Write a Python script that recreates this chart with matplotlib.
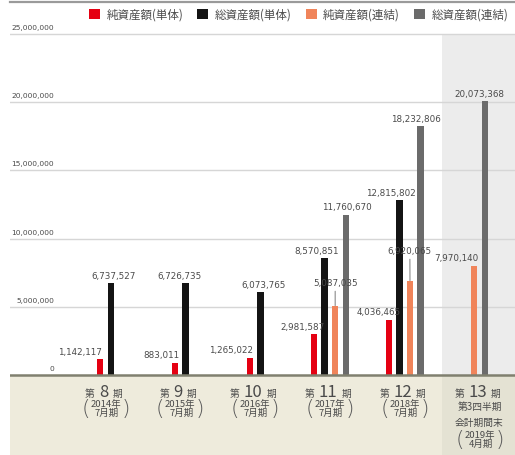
import matplotlib
matplotlib.use("Agg")
import matplotlib.pyplot as plt
from matplotlib.patches import Patch, Rectangle

plt.rcParams['font.family'] = ['Noto Sans CJK JP', 'DejaVu Sans']

# data
periods = ['8', '9', '10', '11', '12', '13']
years = ['2014年', '2015年', '2016年', '2017年', '2018年', '2019年']
months = ['7月期', '7月期', '7月期', '7月期', '7月期', '4月期']
series_names = ['純資産額(単体)', '総資産額(単体)', '純資産額(連結)', '総資産額(連結)']
net_single = [1142117, 883011, 1265022, 2981587, 4036465, None]
total_single = [6737527, 6726735, 6073765, 8570851, 12815802, None]
net_consol = [None, None, None, 5087035, 6920065, 7970140]
total_consol = [None, None, None, 11760670, 18232806, 20073368]
yticks = [0, 5000000, 10000000, 15000000, 20000000, 25000000]

# styles
colors = ['#e50012', '#141414', '#f0845a', '#6b6b6b']
txt = '#4a4a4a'
# label shifts in pixels (dx from bar centre, dy above bar top)
lab_dx = [[-20, -14, -19, -11, -10, 0],
          [3, -6, 3, -8, -8, 0],
          [0, 0, 0, 0, -1, -18],
          [0, 0, 0, 1, -5, -5]]
lab_dy = [[8, 8, 8, 8, 8, 8],
          [8, 8, 8, 8, 8, 8],
          [8, 8, 8, 23, 30, 9],
          [8, 8, 8, 8, 8, 8]]

PX = 0.72  # points per pixel at dpi 100
slot = 0.1417
width = 0.087

fig = plt.figure(figsize=(5.15, 4.56), dpi=100)
ax = fig.add_axes([10/515, 0, 505/515, 453/456])
ymin, ymax = -5.865e6, 27.346e6
xmin, xmax = -1.277, 5.475
ax.set_xlim(xmin, xmax)
ax.set_ylim(ymin, ymax)
ax.set_xticks([])
ax.set_yticks([])
for s in ['left', 'right', 'bottom']:
    ax.spines[s].set_visible(False)
ax.spines['top'].set_color('#9a9a9a')
ax.spines['top'].set_linewidth(1.6)

# backgrounds
ax.axhspan(ymin, 0, color='#eeebdc', zorder=0, lw=0)
ax.add_patch(Rectangle((4.5, 0), xmax - 4.5, 25e6, color='#ececec', zorder=0, lw=0))
ax.add_patch(Rectangle((4.5, ymin), xmax - 4.5, -ymin, color='#e4e2d3', zorder=0, lw=0))

# grid + y labels
for v in yticks:
    if v > 0:
        ax.axhline(v, color='#d6d6d6', lw=1.0, zorder=1)
    ax.annotate(f'{v:,}', xy=(44/505, v), xycoords=('axes fraction', 'data'),
                xytext=(0, 7*PX), textcoords='offset points', ha='right', va='center',
                fontsize=5.4, color=txt, family='DejaVu Sans')

# bars
series = [net_single, total_single, net_consol, total_consol]
for i in range(len(periods)):
    present = [k for k in range(4) if series[k][i] is not None]
    n = len(present)
    for p, k in enumerate(present):
        val = series[k][i]
        x = i + (p - (n - 1) / 2) * slot
        ax.bar(x, val, width=width, color=colors[k], zorder=3, lw=0)
        dy = lab_dy[k][i]
        arrow = None
        if dy > 15:
            arrow = dict(arrowstyle='-', color='#8a8a8a', lw=0.8, shrinkA=1, shrinkB=0,
                         relpos=(0.5 - lab_dx[k][i] / 50, 0))
        ax.annotate(f'{val:,}', xy=(x, val), xytext=(lab_dx[k][i]*PX, dy*PX),
                    textcoords='offset points', ha='center', va='center',
                    fontsize=6.3, color=txt, family='DejaVu Sans', zorder=5,
                    arrowprops=arrow)

ax.axhline(0, color='#80806f', lw=1.8, zorder=4)

# category labels under the axis
for i, per in enumerate(periods):
    w = 9.3 * len(per)
    ax.annotate(per, xy=(i, 0), xytext=(-2*PX, -21*PX), textcoords='offset points',
                ha='center', va='baseline', fontsize=12, color=txt)
    ax.annotate('第', xy=(i, 0), xytext=((-2 - w/2 - 4)*PX, -21*PX), textcoords='offset points',
                ha='right', va='baseline', fontsize=7, color=txt)
    ax.annotate('期', xy=(i, 0), xytext=((-2 + w/2 + 4)*PX, -21*PX), textcoords='offset points',
                ha='left', va='baseline', fontsize=7, color=txt)
    if i < 5:
        top = 28
    else:
        ax.annotate('第3四半期', xy=(i, 0), xytext=(0, -31*PX), textcoords='offset points',
                    ha='center', va='center', fontsize=7, color=txt)
        ax.annotate('会計期間末', xy=(i, 0), xytext=(0, -47*PX), textcoords='offset points',
                    ha='center', va='center', fontsize=7, color=txt)
        top = 59
    ax.annotate(years[i], xy=(i, 0), xytext=(0, -top*PX), textcoords='offset points',
                ha='center', va='center', fontsize=6.8, color=txt)
    ax.annotate(months[i], xy=(i, 0), xytext=(1*PX, -(top + 9.5)*PX), textcoords='offset points',
                ha='center', va='center', fontsize=6.8, color=txt)
    ax.annotate('(', xy=(i, 0), xytext=(-20*PX, -(top + 4.5)*PX), textcoords='offset points',
                ha='center', va='center', fontsize=16, color='#5a5a5a', family='DejaVu Sans',
                fontweight='light')
    ax.annotate(')', xy=(i, 0), xytext=(20*PX, -(top + 4.5)*PX), textcoords='offset points',
                ha='center', va='center', fontsize=16, color='#5a5a5a', family='DejaVu Sans',
                fontweight='light')

# legend
handles = [Patch(color=c, lw=0) for c in colors]
leg = ax.legend(handles, series_names, loc='upper left', ncol=4, frameon=False,
                bbox_to_anchor=(89/515, 1 - 9/456), bbox_transform=fig.transFigure,
                borderpad=0, borderaxespad=0, handlelength=0.95, handleheight=0.9,
                handletextpad=0.55, columnspacing=1.25, fontsize=8.3)
for t in leg.get_texts():
    t.set_color(txt)

fig.savefig('out.png', dpi=100)
